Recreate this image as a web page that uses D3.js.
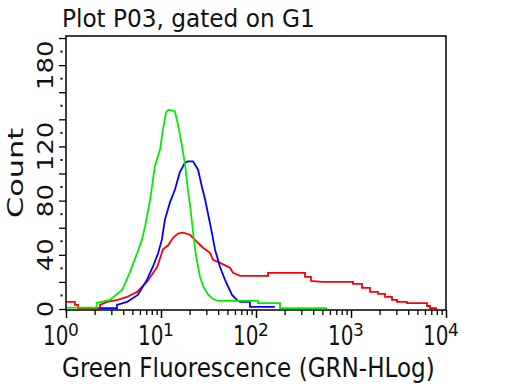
<!DOCTYPE html>
<html>
<head>
<meta charset="utf-8">
<script src="https://cdn.jsdelivr.net/npm/d3@7"></script>
<style>
  html, body { margin: 0; padding: 0; background: #fff; }
  svg { display: block; }
  text { font-family: "DejaVu Sans", Verdana, sans-serif; fill: #111; }
</style>
</head>
<body>
<svg id="chart" width="512" height="384"></svg>
<script>
// ---- Data ----
const titleText = "Plot P03, gated on G1";
const xTitle = "Green Fluorescence (GRN-HLog)";
const yTitle = "Count";
const xDecades = [1, 10, 100, 1000, 10000];
const xExponents = ["0", "1", "2", "3", "4"];
const yMajorTicks = [0, 20, 40, 60, 80, 100, 120, 140, 160, 180, 200];
const yDotTicks = [10, 30, 50, 70, 90, 110, 130, 150, 170, 190];
const yLabelTicks = [0, 40, 80, 120, 180];

// Red series (fluorescence, count)
const redX = [1, 1.24, 1.24, 1.34, 1.34, 2.28, 2.28, 2.7, 3.5, 4.39, 5.6, 7.1, 9.1, 10.5, 11.9, 13.4, 15.1, 17.0, 20.2, 23.9, 27.7, 32.8, 35.3, 41.8, 53.2, 57.3, 67.9, 134, 134, 328, 328, 379, 379, 495, 1050, 1050, 1306, 1306, 1585, 1585, 1923, 1923, 2280, 2280, 2703, 2703, 3050, 3050, 3882, 3882, 6310, 6310, 6790, 6790, 8040];
const redY = [5.2, 5.2, 3, 3, 0.7, 0.7, 3, 5.2, 6.7, 8.9, 12.6, 20, 31, 44, 47, 52.6, 55.6, 56.3, 54.8, 49.6, 45.2, 41.5, 36.3, 34, 30.4, 26.7, 24.4, 24.4, 26.7, 26.7, 23.7, 23.7, 20.7, 20, 20, 18.5, 18.5, 15.6, 15.6, 12.6, 12.6, 11.1, 11.1, 8.9, 8.9, 6.7, 6.7, 5.2, 5.2, 4.4, 4.4, 2.2, 2.2, 0.7, 0.7];

// Blue series
const blueX = [2.28, 3.44, 3.44, 4.39, 5.7, 7.1, 8.2, 9.3, 10.2, 11.0, 12.4, 14.0, 15.8, 17.9, 19.2, 21.7, 24.5, 27.0, 29.1, 34.4, 37.0, 41.8, 47.2, 55.9, 63.1, 67.9, 86.4, 86.4, 158];
const blueY = [0.7, 0.7, 3, 5.2, 10.4, 21.5, 31, 41, 51, 66, 78.5, 88, 101, 108, 109, 109, 103, 90, 81, 56, 44, 31, 21.5, 10.4, 6.7, 5.2, 5.2, 1.5, 1.5];

// Green series
const greenX = [1, 2.1, 2.1, 2.9, 3.9, 4.7, 5.6, 6.3, 6.8, 7.7, 8.6, 9.8, 10.5, 11.3, 11.9, 14.0, 15.1, 16.6, 17.9, 19.2, 20.2, 21.9, 23.3, 25.7, 27.9, 31.5, 35.3, 39.8, 105, 105, 179, 179, 560];
const greenY = [1, 1, 4.4, 6.7, 14, 27, 41, 51, 61, 81, 105, 118, 133, 145, 147, 146, 136, 121, 107, 88, 77, 55, 40, 24, 16.5, 10.4, 7.4, 6, 6, 4.4, 4.4, 0.7, 0.7];

const seriesColors = ["#ff0000", "#0000ff", "#00ee00"];

// ---- Drawing ----
const svg = d3.select("#chart");
const pLeft = 66, pRight = 446, pTop = 36, pBottom = 310;

const x = d3.scaleLog().domain([1, 10000]).range([pLeft, pRight]);
const y = d3.scaleLinear().domain([0, 201.5]).range([309, pTop]);

// series lines
const line = d3.line().x(d => x(d[0])).y(d => y(d[1]));
const series = [
  d3.zip(redX, redY),
  d3.zip(blueX, blueY),
  d3.zip(greenX, greenY)
];
svg.append("clipPath").attr("id", "plotclip")
  .append("rect").attr("x", pLeft).attr("y", pTop).attr("width", pRight - pLeft).attr("height", pBottom - pTop);
svg.append("g").attr("clip-path", "url(#plotclip)")
  .selectAll("path").data(series).join("path")
  .attr("d", line)
  .attr("fill", "none")
  .attr("stroke", (d, i) => seriesColors[i])
  .attr("stroke-width", 1.8)
  .attr("stroke-linejoin", "miter");

// x axis ticks
const minorX = [];
for (let e = 0; e < 4; e++) for (let k = 2; k <= 9; k++) minorX.push(k * Math.pow(10, e));
svg.append("g").attr("transform", `translate(0,${pBottom})`)
  .call(d3.axisBottom(x).tickValues(minorX).tickSize(5).tickFormat(""))
  .call(g => g.select(".domain").remove())
  .call(g => g.selectAll("line").attr("stroke", "#000").attr("stroke-width", 1.3));
svg.append("g").attr("transform", `translate(0,${pBottom})`)
  .call(d3.axisBottom(x).tickValues(xDecades).tickSize(8).tickFormat(""))
  .call(g => g.select(".domain").remove())
  .call(g => g.selectAll("line").attr("stroke", "#000").attr("stroke-width", 1.5));

// y axis ticks
svg.append("g").attr("transform", `translate(${pLeft},0)`)
  .call(d3.axisLeft(y).tickValues(yMajorTicks).tickSize(7).tickFormat(""))
  .call(g => g.select(".domain").remove())
  .call(g => g.selectAll("line").attr("stroke", "#000").attr("stroke-width", 1.3));
svg.append("g").selectAll("rect").data(yDotTicks).join("rect")
  .attr("x", pLeft - 5.5).attr("y", d => y(d) - 1).attr("width", 2).attr("height", 2)
  .attr("fill", "#000");

// frame
svg.append("rect").attr("x", pLeft).attr("y", pTop)
  .attr("width", pRight - pLeft).attr("height", pBottom - pTop)
  .attr("fill", "none").attr("stroke", "#000").attr("stroke-width", 1.5);

// x tick labels: 10^n
const xl = svg.append("g");
xDecades.forEach((v, i) => {
  const tx = x(v);
  xl.append("text").text("10")
    .attr("text-anchor", "end")
    .attr("font-size", 20)
    .attr("transform", `translate(${tx + 2.5},345) scale(1,1.37)`);
  xl.append("text").text(xExponents[i])
    .attr("font-size", 17)
    .attr("transform", `translate(${tx + 2},336) scale(1,1.05)`);
});

// y tick labels (rotated)
svg.append("g").selectAll("text").data(yLabelTicks).join("text")
  .text(d => String(d))
  .attr("text-anchor", "middle")
  .attr("font-size", 20.6)
  .attr("transform", d => `translate(53,${y(d)}) rotate(-90) scale(1.26,1)`);

// titles
svg.append("text").text(titleText)
  .attr("font-size", 23.2)
  .attr("transform", "translate(62,27) scale(1,1.07)");
svg.append("text").text(xTitle)
  .attr("font-size", 23.1)
  .attr("transform", "translate(62,377) scale(1,1.15)");
svg.append("text").text(yTitle)
  .attr("text-anchor", "middle")
  .attr("font-size", 22)
  .attr("transform", "translate(23,173) rotate(-90) scale(1.38,1)");
</script>
</body>
</html>
